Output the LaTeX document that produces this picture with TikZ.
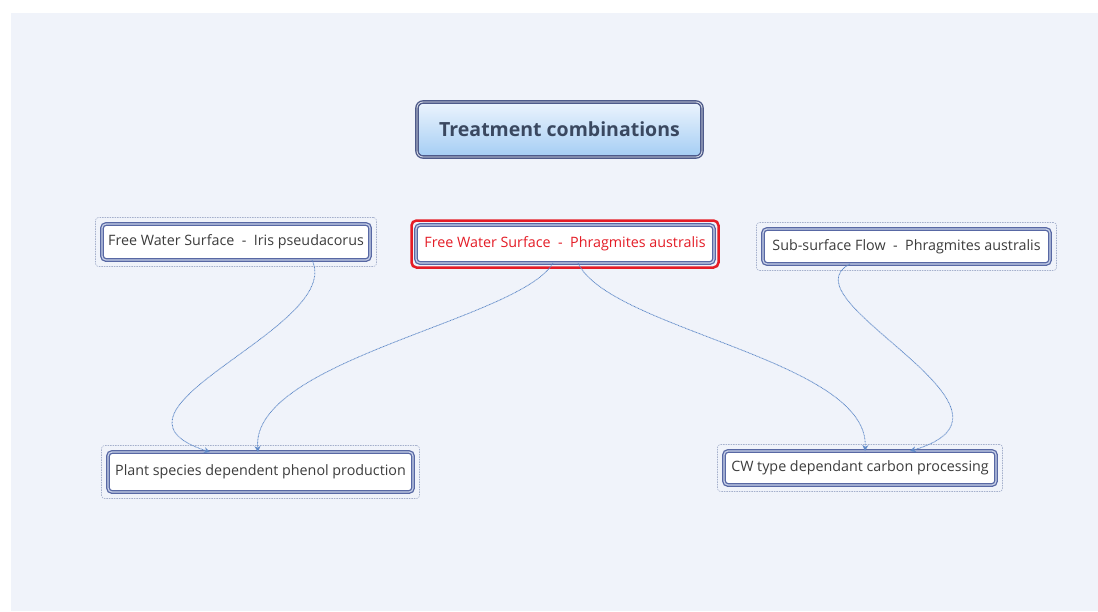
\documentclass[tikz,border=0pt]{standalone}
\usepackage{fontspec}
\setmainfont{Open Sans}
\usetikzlibrary{arrows.meta,fit}

\definecolor{canvasbg}{RGB}{240,243,250}
\definecolor{nodeblue}{RGB}{88,104,164}
\definecolor{nodeinner}{RGB}{200,209,233}
\definecolor{framegray}{RGB}{165,176,204}
\definecolor{linkblue}{RGB}{96,138,200}
\definecolor{textgray}{RGB}{60,60,60}
\definecolor{alertred}{RGB}{228,28,38}
\definecolor{titletext}{RGB}{58,72,96}
\definecolor{titleborder}{RGB}{78,90,138}
\definecolor{titletop}{RGB}{236,244,253}
\definecolor{titlebottom}{RGB}{164,205,244}

\tikzset{
  topic/.style={rounded corners=4pt, draw=nodeblue, line width=1.3pt,
    double=nodeinner, double distance=1.2pt, fill=white, inner sep=0pt,
    outer sep=0pt, font=\fontsize{14.3}{16}\selectfont, text=textgray},
  topicframe/.style={rounded corners=3pt, draw=framegray,
    dash pattern=on 1.5pt off 1pt, line width=0.6pt, inner sep=6.5pt},
  selframe/.style={rounded corners=5pt, draw=alertred, line width=2.5pt,
    inner sep=4.5pt},
  rootnode/.style={rounded corners=6pt, draw=titleborder, line width=1.4pt,
    double=white!85!titleborder, double distance=0.8pt,
    top color=titletop, bottom color=titlebottom, inner sep=0pt,
    outer sep=0pt, font=\fontsize{19.5}{22}\selectfont\bfseries, text=titletext},
  link/.style={draw=linkblue, line width=0.8pt, dash pattern=on 0.9pt off 0.6pt,
    -{Stealth[length=6pt,width=6pt]}}
}

\begin{document}
\begin{tikzpicture}[x=1pt,y=-1pt]
  \useasboundingbox (0,0) rectangle (1098,611);
  \fill[canvasbg] (11,13) rectangle (1098,611);

  % central topic
  \node[rootnode, minimum width=285pt, minimum height=55pt] (root) at (559.5,129.5)
    {Treatment combinations};

  % treatment topics
  \node[topic, minimum width=268pt, minimum height=36pt] (n1) at (236,242)
    {Free Water Surface\ \ -\ \ Iris pseudacorus};
  \node[topic, minimum width=298pt, minimum height=38pt, text=alertred] (n2) at (565,244)
    {Free Water Surface\ \ -\ \ Phragmites australis};
  \node[topic, minimum width=287pt, minimum height=35pt] (n3) at (906.5,246.5)
    {Sub-surface Flow\ \ -\ \ Phragmites australis};

  % outcome topics
  \node[topic, minimum width=305pt, minimum height=40pt] (n4) at (260.5,472)
    {Plant species dependent phenol production};
  \node[topic, minimum width=272pt, minimum height=34pt] (n5) at (860,468)
    {CW type dependant carbon processing};

  % frames around topics
  \node[topicframe, fit=(n1)] (f1) {};
  \node[selframe, fit=(n2)] (f2) {};
  \node[topicframe, fit=(n3)] (f3) {};
  \node[topicframe, fit=(n4)] (f4) {};
  \node[topicframe, fit=(n5)] (f5) {};

  % connector end points
  \coordinate (a1) at ([xshift=76pt]n1.south);
  \coordinate (a2) at ([xshift=-12pt]n2.south);
  \coordinate (a3) at ([xshift=13pt]n2.south);
  \coordinate (a4) at ([xshift=-56.5pt]n3.south);
  \coordinate (b1) at ([xshift=-50.5pt]n4.north);
  \coordinate (b2) at ([xshift=-2.5pt]n4.north);
  \coordinate (b3) at ([xshift=5pt]n5.north);
  \coordinate (b4) at ([xshift=50pt]n5.north);

  % relationships
  \draw[link] (a1) .. controls +(33,68) and +(-130,-42) .. (b1);
  \draw[link] (a2) .. controls +(-33,57) and +(-8,-92) .. (b2);
  \draw[link] (a3) .. controls +(32,67) and +(5,-91) .. (b3);
  \draw[link] (a4) .. controls +(-70,36) and +(140,-41) .. (b4);
\end{tikzpicture}
\end{document}
